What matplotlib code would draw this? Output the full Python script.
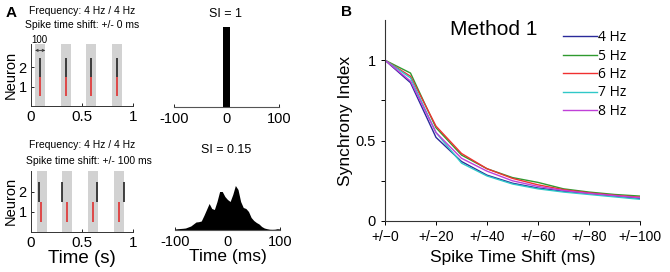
import numpy as np
import matplotlib
matplotlib.use('Agg')
import matplotlib.pyplot as plt

plt.rcParams['font.family'] = ['Liberation Sans', 'DejaVu Sans']

# ---- panel A: spike rasters (time in s) ----
band_width = 0.1
bands_top = [0.04, 0.29, 0.54, 0.79]
bands_bot = [0.055, 0.305, 0.56, 0.815]
spk_top_n1 = [0.088, 0.34, 0.59, 0.84]
spk_top_n2 = [0.088, 0.34, 0.59, 0.84]
spk_bot_n1 = [0.098, 0.356, 0.61, 0.86]
spk_bot_n2 = [0.081, 0.30, 0.644, 0.915]

# ---- panel A: cross-correlograms (lag in ms) ----
cc0_lags = [0]
cc0_counts = [1]
cc100_lags = [-100, -95, -90, -85, -80, -75, -70, -65, -60, -55, -50, -45, -40,
              -35, -30, -25, -20, -15, -10, -5, 0, 5, 10, 15, 20, 25, 30, 35,
              40, 45, 50, 55, 60, 65, 70, 75, 80, 85, 90, 95, 100]
cc100_counts = [0.5, 0.8, 1.0, 1.2, 1.5, 2.5, 3.5, 5.5, 7.5, 7.8, 8.5, 14, 20,
                26, 21, 20, 28, 38, 38, 33, 30, 28, 35, 44, 40, 28, 22, 21,
                18, 12, 9, 7, 5.5, 3, 1.5, 0.8, 0.3, 0.2, 0.3, 0.8, 0.5]

# ---- panel B: synchrony index vs spike time shift ----
shift = [0, 10, 20, 30, 40, 50, 60, 70, 80, 90, 100]
si_4hz = [1, 0.86, 0.52, 0.37, 0.285, 0.235, 0.205, 0.185, 0.17, 0.155, 0.14]
si_5hz = [1, 0.92, 0.58, 0.41, 0.325, 0.27, 0.24, 0.20, 0.18, 0.165, 0.155]
si_6hz = [1, 0.90, 0.59, 0.42, 0.325, 0.265, 0.225, 0.195, 0.175, 0.16, 0.148]
si_7hz = [1, 0.89, 0.55, 0.36, 0.28, 0.23, 0.20, 0.18, 0.165, 0.15, 0.135]
si_8hz = [1, 0.87, 0.55, 0.39, 0.31, 0.25, 0.215, 0.19, 0.172, 0.158, 0.145]
freq_labels = ['4 Hz', '5 Hz', '6 Hz', '7 Hz', '8 Hz']
freq_colors = ['#2a2a9a', '#2f9a2f', '#f03030', '#30c8c8', '#c040d8']

W, H = 670, 272
fig = plt.figure(figsize=(W / 100, H / 100), dpi=100)


def px_axes(l, t, r, b):
    return fig.add_axes([l / W, 1 - b / H, (r - l) / W, (b - t) / H])


def px_text(x, y, s, **kw):
    fig.text(x / W, 1 - y / H, s, ha='center', va='center', **kw)


def raster(ax, bands, n1, n2, ytop):
    for b in bands:
        ax.axvspan(b, b + band_width, color='#d2d2d2', lw=0)
    ax.vlines(n2, 1.5, 2.5, color='#222222', lw=1.2)
    ax.vlines(n1, 0.5, 1.5, color='#e03030', lw=1.2)
    ax.set_xlim(0, 1)
    ax.set_ylim(0, ytop)
    ax.set_xticks([0, 0.5, 1])
    ax.set_xticklabels(['0', '0.5', '1'], fontsize=11)
    ax.set_yticks([1, 2])
    ax.set_yticklabels(['1', '2'], fontsize=10.5)
    ax.tick_params(direction='in', length=2, width=0.6, pad=3)
    for s in ['top', 'right']:
        ax.spines[s].set_visible(False)
    for s in ['left', 'bottom']:
        ax.spines[s].set_linewidth(0.7)
        ax.spines[s].set_color('#333333')
    ax.set_ylabel('Neuron', fontsize=10.5, labelpad=1)


def correlogram(ax):
    ax.set_xlim(-100, 100)
    ax.set_xticks([-100, 0, 100])
    ax.set_xticklabels(['-100', '0', '100'], fontsize=10.5)
    ax.set_yticks([])
    ax.tick_params(direction='in', length=2, width=0.6, pad=4)
    for s in ['top', 'right', 'left']:
        ax.spines[s].set_visible(False)
    ax.spines['bottom'].set_linewidth(0.8)
    ax.spines['bottom'].set_color('#555555')


# top raster
ax1 = px_axes(31, 44, 133, 106)
raster(ax1, bands_top, spk_top_n1, spk_top_n2, 3.2)
ax1.annotate('', xy=(bands_top[0], 2.87), xytext=(bands_top[0] + band_width, 2.87),
             arrowprops=dict(arrowstyle='<->', lw=0.6, color='#333333',
                             mutation_scale=4, shrinkA=0, shrinkB=0))
ax1.text(0.083, 3.42, '100', fontsize=7, ha='center', va='center', clip_on=False)

# bottom raster
ax2 = px_axes(31, 171, 133, 231.5)
raster(ax2, bands_bot, spk_bot_n1, spk_bot_n2, 3.03)
ax2.set_xlabel('Time (s)', fontsize=13.5, labelpad=0)

# top correlogram
ax3 = px_axes(174, 26.7, 279, 106.7)
ax3.bar(cc0_lags, cc0_counts, width=12, color='black')
ax3.set_ylim(0, 1)
correlogram(ax3)

# bottom correlogram
ax4 = px_axes(175, 169.5, 280, 229.5)
ax4.fill_between(cc100_lags, cc100_counts, color='black', lw=0)
ax4.set_ylim(0, 60)
correlogram(ax4)
ax4.set_xlabel('Time (ms)', fontsize=12.5, labelpad=0)

# panel B
axb = px_axes(385, 20, 640, 221)
for y, lab, c in zip([si_4hz, si_5hz, si_6hz, si_7hz, si_8hz], freq_labels, freq_colors):
    axb.plot(shift, y, color=c, lw=1.0, label=lab)
axb.set_xlim(0, 100)
axb.set_ylim(0, 1.25)
axb.set_xticks([0, 20, 40, 60, 80, 100])
axb.set_xticklabels(['+/\u22120', '+/\u221220', '+/\u221240', '+/\u221260',
                     '+/\u221280', '+/\u2212100'], fontsize=10)
axb.set_yticks([0, 0.25, 0.5, 0.75, 1])
axb.set_yticklabels(['0', '', '0.5', '', '1'], fontsize=10.5)
axb.tick_params(direction='out', length=3, width=0.7)
for s in ['top', 'right']:
    axb.spines[s].set_visible(False)
for s in ['left', 'bottom']:
    axb.spines[s].set_linewidth(0.8)
    axb.spines[s].set_color('#333333')
axb.set_xlabel('Spike Time Shift (ms)', fontsize=12.5, labelpad=4)
axb.set_ylabel('Synchrony Index', fontsize=12.5, labelpad=2)
leg = axb.legend(frameon=False, loc='upper left', bbox_to_anchor=(0.698, 0.95),
                 borderaxespad=0, borderpad=0, handlelength=2.45, handletextpad=0.1,
                 labelspacing=0.25, prop={'family': 'Open Sans', 'size': 10})

# figure texts
px_text(11, 13, 'A', fontsize=11, fontweight='bold')
px_text(346, 12, 'B', fontsize=11, fontweight='bold')
px_text(82.5, 10.5, 'Frequency: 4 Hz / 4 Hz', fontsize=7.5)
px_text(82.5, 25.5, 'Spike time shift: +/- 0 ms', fontsize=7.5)
px_text(82, 145.5, 'Frequency: 4 Hz / 4 Hz', fontsize=7.5)
px_text(89, 161, 'Spike time shift: +/- 100 ms', fontsize=7.5)
px_text(225, 14, 'SI = 1', fontsize=9)
px_text(226.5, 150, 'SI = 0.15', fontsize=9)
px_text(494, 29.5, 'Method 1', fontsize=15)

fig.savefig('out.png', dpi=100)
